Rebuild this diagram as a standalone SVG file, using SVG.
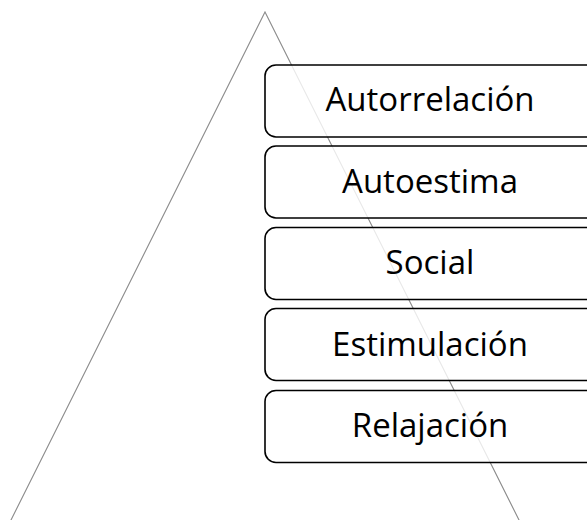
<svg xmlns="http://www.w3.org/2000/svg" width="587" height="520" viewBox="0 0 587 520">
  <style>
    .tri { fill: none; stroke: #8a8a8a; stroke-width: 1.1; }
    .box { fill: #ffffff; fill-opacity: 0.8; stroke: #000000; stroke-width: 1.6; }
    .lbl { font-family: "Open Sans", "Liberation Sans", sans-serif; font-size: 33px; fill: #000000; text-anchor: middle; }
  </style>
  <rect width="587" height="520" fill="#ffffff"/>
  <g id="connectors">
    <path class="tri" d="M 5,532 L 265,12 L 525,532"/>
  </g>
  <g id="node-autorrelacion">
    <rect class="box" x="265" y="65" width="335" height="72" rx="11"/>
    <text class="lbl" x="430" y="111">Autorrelación</text>
  </g>
  <g id="node-autoestima">
    <rect class="box" x="265" y="146" width="335" height="72" rx="11"/>
    <text class="lbl" x="430" y="193">Autoestima</text>
  </g>
  <g id="node-social">
    <rect class="box" x="265" y="227.5" width="335" height="72" rx="11"/>
    <text class="lbl" x="430" y="274">Social</text>
  </g>
  <g id="node-estimulacion">
    <rect class="box" x="265" y="308.5" width="335" height="72" rx="11"/>
    <text class="lbl" x="430" y="355.5">Estimulación</text>
  </g>
  <g id="node-relajacion">
    <rect class="box" x="265" y="390.5" width="335" height="72" rx="11"/>
    <text class="lbl" x="430" y="437">Relajación</text>
  </g>
</svg>
